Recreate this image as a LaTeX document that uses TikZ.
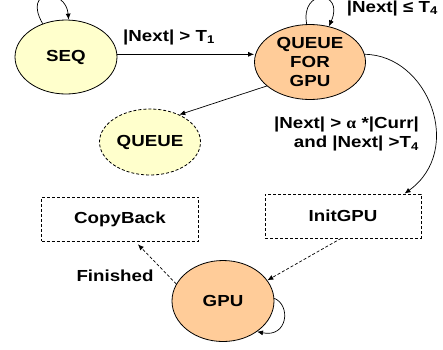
\documentclass[tikz,border=0pt]{standalone}
\usepackage{fontspec}
\setmainfont{Liberation Sans}[FakeStretch=1.17]
\newfontfamily\alphafont{Liberation Serif}[FakeStretch=1.1]
\usetikzlibrary{arrows.meta,shapes.geometric,calc}
\definecolor{paleyellow}{HTML}{FFFFCC}
\definecolor{peach}{HTML}{FFCC99}
\begin{document}
\begin{tikzpicture}[x=1pt,y=-1pt,
  every node/.style={font=\fontsize{16}{19}\selectfont\bfseries, inner sep=0pt},
  state/.style={ellipse, draw=black, line width=0.8pt, align=center},
  yel/.style={state, fill=paleyellow},
  org/.style={state, fill=peach},
  dbox/.style={rectangle, draw=black, line width=0.8pt, dash pattern=on 3pt off 2pt, fill=white},
  arr/.style={-{Latex[length=6pt,width=5pt]}, line width=0.7pt},
  darr/.style={arr, dash pattern=on 3pt off 2pt},
  lbl/.style={}
]
\useasboundingbox (0,0) rectangle (443,349);
\node[yel, minimum width=102pt, minimum height=74pt] (SEQ) at (66,57) {SEQ};
\node[org, minimum width=111pt, minimum height=75pt] (QFG) at (310,62) {QUEUE\\FOR\\GPU};
\node[yel, dash pattern=on 3pt off 2pt, minimum width=101pt, minimum height=66pt] (QUEUE) at (150,142) {QUEUE};
\node[dbox, minimum width=157pt, minimum height=44pt] (CB) at (120,219) {CopyBack};
\node[dbox, minimum width=156pt, minimum height=44pt] (IG) at (343,216) {InitGPU};
\node[org, minimum width=102pt, minimum height=81pt] (GPU) at (223,301) {GPU};

% self loops
\draw[arr] (SEQ.125) .. controls (22,-12) and (66,-12) .. (SEQ.86);
\draw[arr] (QFG.95) .. controls (300,-12) and (345,-10) .. (QFG.62);
\draw[arr] (GPU.3) .. controls (291,305) and (288,338) .. (GPU.-42);

% transitions
\draw[arr] (SEQ.3) -- (SEQ.3 -| QFG.west);
\node[lbl] (l1) at (169,37) {|Next| > T\textsubscript{1}};
\node[lbl, anchor=east] (l2) at (438,8) {|Next| ≤ T\textsubscript{4}};
\draw[arr] (QFG.209) -- (QUEUE.43);
\draw[arr] (QFG.8) .. controls (428,55) and (465,150) .. (IG.20);
\node[lbl, anchor=east, align=right] (l3) at (419,134) {|Next| > {\alphafont α} *|Curr|\\and |Next| >T\textsubscript{4}};
\draw[darr] (IG.265) -- (GPU.25);
\draw[darr, shorten >=4pt] (GPU.160) -- (CB.-56);
\node[lbl] (l4) at (115,276) {Finished};
\end{tikzpicture}
\end{document}
